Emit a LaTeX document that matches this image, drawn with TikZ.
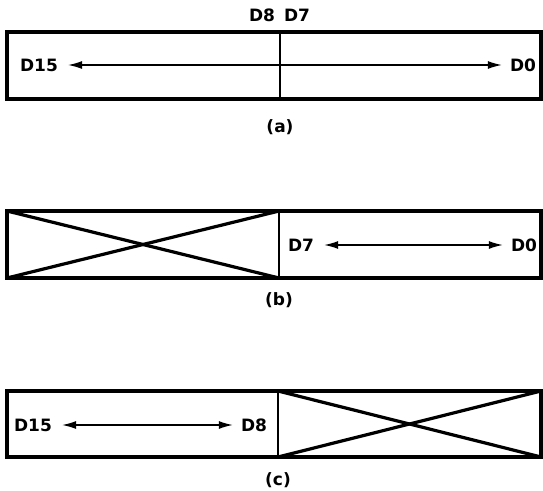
\documentclass[tikz,border=0pt]{standalone}
\usepackage{fontspec}
\setmainfont{DejaVu Sans}
\usetikzlibrary{arrows.meta}
\tikzset{
  frame/.style={line width=3.2pt, line join=miter},
  divline/.style={line width=2.6pt},
  xline/.style={line width=3.2pt},
  lbl/.style={font=\fontsize{17}{19}\selectfont\bfseries, inner sep=0pt},
  capt/.style={font=\fontsize{17}{19}\selectfont\bfseries, inner sep=0pt},
  bus/.style={line width=1.4pt, {Latex[length=14pt,width=8pt]}-{Latex[length=14pt,width=8pt]}, shorten <=10pt, shorten >=8pt}
}
\begin{document}
\begin{tikzpicture}[x=1pt,y=-1pt]
\useasboundingbox (0,0) rectangle (543,490);
% (a)
\draw[frame] (7,32) rectangle (541,99);
\coordinate (adt) at (280,32);
\coordinate (adb) at (280,99);
\draw[divline] (adt) -- (adb);
\node[lbl] (a8) at (262,15) {D8};
\node[lbl] (a7) at (297,15) {D7};
\node[lbl] (a15) at (39,65) {D15};
\node[lbl] (a0) at (523,65) {D0};
\draw[bus] (a15) -- (a0);
\node[capt] (capa) at (280,127) {(a)};
% (b)
\draw[frame] (7,211) rectangle (541,278);
\coordinate (bdt) at (279,211);
\coordinate (bdb) at (279,278);
\coordinate (btl) at (7,211);
\coordinate (bbl) at (7,278);
\draw[divline] (bdt) -- (bdb);
\draw[xline] (btl) -- (bdb);
\draw[xline] (bbl) -- (bdt);
\node[lbl] (b7) at (301,245) {D7};
\node[lbl] (b0) at (524,245) {D0};
\draw[bus] (b7) -- (b0);
\node[capt] (capb) at (279,300) {(b)};
% (c)
\draw[frame] (7,391) rectangle (541,457);
\coordinate (cdt) at (278,391);
\coordinate (cdb) at (278,457);
\coordinate (ctr) at (541,391);
\coordinate (cbr) at (541,457);
\draw[divline] (cdt) -- (cdb);
\draw[xline] (cdt) -- (cbr);
\draw[xline] (cdb) -- (ctr);
\node[lbl] (c15) at (33,425) {D15};
\node[lbl] (c8) at (254,425) {D8};
\draw[bus] (c15) -- (c8);
\node[capt] (capc) at (278,480) {(c)};
\end{tikzpicture}
\end{document}
